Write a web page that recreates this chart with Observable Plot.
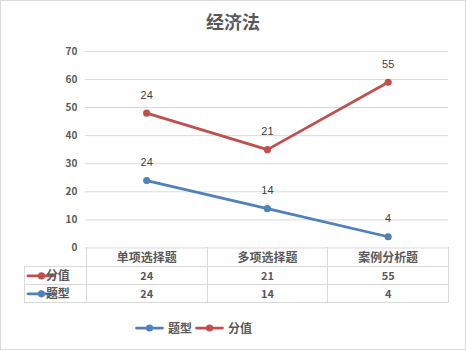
<!DOCTYPE html>
<html><head><meta charset="utf-8">
<script src="https://cdn.jsdelivr.net/npm/d3@7"></script>
<script src="https://cdn.jsdelivr.net/npm/@observablehq/plot@0.6"></script>
<style>
html,body{margin:0;padding:0;background:#fff;}
#wrap{position:relative;width:466px;height:350px;border:1px solid #d9d9d9;box-sizing:border-box;overflow:hidden;font-family:"Noto Sans CJK SC",sans-serif;}
#title{position:absolute;top:7px;left:-1px;width:466px;text-align:center;font-size:18px;font-weight:bold;color:#595959;line-height:26px;}
#chart{position:absolute;top:-1px;left:-1px;}
#legend{position:absolute;top:319px;left:134px;display:flex;align-items:center;font-size:12px;font-weight:bold;color:#595959;line-height:16px;}
#legend .item{display:flex;align-items:center;margin-right:3px;}
#legend svg{margin-right:4px;}
</style></head><body>
<div id="wrap"><div id="chart"></div><div id="title">经济法</div><div id="legend"></div></div>
<script>
const categories = ["单项选择题", "多项选择题", "案例分析题"];
const seriesNames = ["题型", "分值"];
const tixingValues = [24, 14, 4];
const fenzhiValues = [24, 21, 55];
const yTicks = [0, 10, 20, 30, 40, 50, 60, 70];
const seriesColors = ["#4F81BD", "#C0504D"];
const tableRows = ["分值", "题型"];

const valuesBySeries = {"题型": tixingValues, "分值": fenzhiValues};
const data = [];
for (const s of seriesNames) {
  categories.forEach((c, i) => data.push({series: s, category: c, value: valuesBySeries[s][i]}));
}

const headerH = 19, rowH = 18;
const textColor = "#595959";
const cjk = '"Noto Sans CJK SC", sans-serif';

const tableTextMarks = tableRows.map((r, ri) =>
  Plot.text(data.filter(d => d.series === r), {
    x: "category", text: d => String(d.value), frameAnchor: "bottom", lineAnchor: "middle",
    dy: headerH + rowH * ri + rowH / 2 + 0.5, fontSize: 11, fontWeight: "bold", fill: textColor, fontFamily: cjk
  })
);

const chart = Plot.plot({
  width: 466, height: 351,
  marginTop: 51, marginBottom: 103, marginLeft: 85, marginRight: 17,
  x: {type: "band", domain: categories, padding: 0, axis: null},
  y: {domain: [0, 70], axis: null},
  color: {domain: seriesNames, range: seriesColors},
  style: {fontFamily: cjk, background: "transparent"},
  marks: [
    Plot.gridY(yTicks, {stroke: "#d9d9d9", strokeOpacity: 1}),
    Plot.axisY(yTicks, {tickSize: 0, tickPadding: 8, label: null, fontSize: 10, fontWeight: "bold", color: textColor, fontFamily: cjk}),
    Plot.text(categories, {x: d => d, text: d => d, frameAnchor: "bottom", lineAnchor: "middle", dy: headerH / 2 + 0.5, fontSize: 12, fontWeight: "bold", fill: textColor, fontFamily: cjk}),
    ...tableTextMarks,
    Plot.lineY(data, Plot.stackY2({x: "category", y: "value", z: "series", stroke: "series", strokeWidth: 2.75, strokeLinecap: "round", strokeLinejoin: "round"})),
    Plot.dot(data, Plot.stackY2({x: "category", y: "value", z: "series", fill: "series", r: 3.6})),
    Plot.text(data, Plot.stackY2({x: "category", y: "value", z: "series", text: d => String(d.value), dy: -18, fontSize: 11, fill: "#404040", fontFamily: '"Liberation Sans", Arial, sans-serif'}))
  ]
});

// table grid drawn from the plot's own scales
const xs = chart.scale("x");
const ys = chart.scale("y");
const bw = xs.bandwidth;
const y0 = ys.apply(0);
const xRight = xs.apply(categories[categories.length - 1]) + bw;
const keyLeft = 24;
const yBottom = y0 + headerH + rowH * tableRows.length;
const g = d3.select(chart).append("g").attr("stroke", "#d9d9d9").attr("stroke-width", 1).attr("shape-rendering", "crispEdges");
const vx = categories.map(c => xs.apply(c)).concat([xRight]);
vx.forEach(x => g.append("line").attr("x1", x + 0.5).attr("x2", x + 0.5).attr("y1", y0).attr("y2", yBottom));
g.append("line").attr("x1", keyLeft + 0.5).attr("x2", keyLeft + 0.5).attr("y1", y0 + headerH).attr("y2", yBottom);
for (let i = 0; i <= tableRows.length; i++) {
  const yy = y0 + headerH + rowH * i + 0.5;
  g.append("line").attr("x1", keyLeft).attr("x2", xRight + 1).attr("y1", yy).attr("y2", yy);
}
const kg = d3.select(chart).append("g");
tableRows.forEach((r, ri) => {
  const cy = y0 + headerH + rowH * ri + rowH / 2 + 0.5;
  const col = seriesColors[seriesNames.indexOf(r)];
  kg.append("line").attr("x1", keyLeft + 4).attr("x2", keyLeft + 31).attr("y1", cy).attr("y2", cy)
    .attr("stroke", col).attr("stroke-width", 2.75).attr("stroke-linecap", "round");
  kg.append("circle").attr("cx", keyLeft + 17.5).attr("cy", cy).attr("r", 3.6).attr("fill", col);
  kg.append("text").attr("x", keyLeft + 34).attr("y", cy).attr("dy", "0.35em")
    .attr("font-size", 12).attr("font-weight", "bold").attr("fill", textColor).attr("font-family", cjk).text(r);
});

document.getElementById("chart").appendChild(chart);

// bottom legend
const legend = d3.select("#legend");
seriesNames.forEach((s, i) => {
  const item = legend.append("div").attr("class", "item");
  const sv = item.append("svg").attr("width", 29).attr("height", 10);
  sv.append("line").attr("x1", 1.5).attr("x2", 27.5).attr("y1", 5).attr("y2", 5).attr("stroke", seriesColors[i]).attr("stroke-width", 2.75).attr("stroke-linecap", "round");
  sv.append("circle").attr("cx", 14.5).attr("cy", 5).attr("r", 3.6).attr("fill", seriesColors[i]);
  item.append("span").text(s);
});
</script>
</body></html>
